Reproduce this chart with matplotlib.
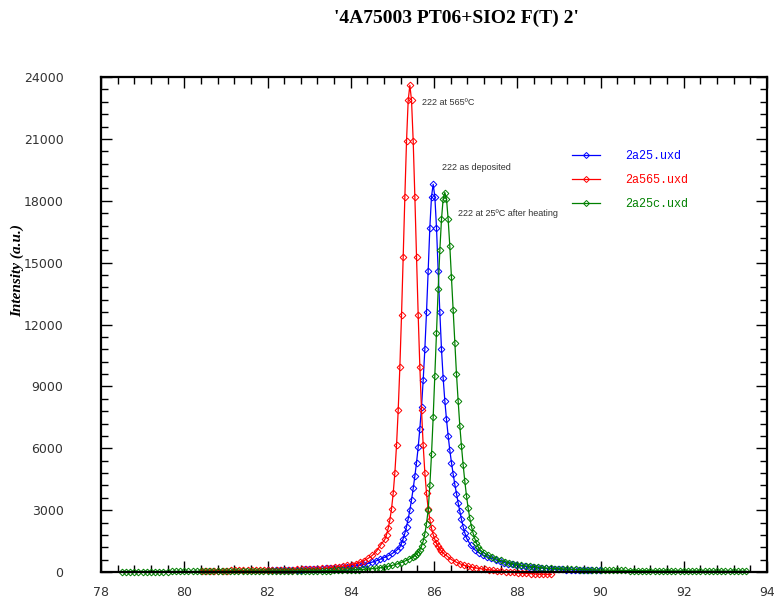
import numpy as np
import matplotlib.pyplot as plt
from matplotlib.ticker import MultipleLocator

# scan steps (deg 2theta): coarse in the tails, fine around the peaks
TAIL_STEP = 0.1
CORE_STEP = 0.04

# 2a25.uxd -- 222 as deposited
blue_left_start = 82.0
blue_left = [75, 79, 83, 87, 92, 97, 102, 108, 115, 122, 130, 138, 148, 158, 170,
             182, 196, 212, 230, 250, 272, 300, 330, 365, 405, 470, 535, 610, 700,
             790, 900, 1050]
blue_core_start = 85.18
blue_core = [1200, 1400, 1620, 1880, 2200, 2580, 3000, 3500, 4050, 4650, 5300, 6050,
             6950, 8000, 9300, 10800, 12600, 14600, 16700, 18200, 18800, 18200, 16700,
             14600, 12600, 10800, 9400, 8300, 7400, 6600, 5900, 5300, 4750, 4250, 3800,
             3350, 2950, 2550, 2200, 1900, 1650]
blue_right_start = 86.88
blue_right = [1300, 1080, 930, 820, 740, 660, 590, 520, 460, 410, 370, 330, 300, 270,
              245, 225, 205, 190, 175, 160, 150, 140, 130, 120, 112, 105, 98, 93, 88,
              84, 80, 76]

# 2a565.uxd -- 222 at 565C
red_left_start = 80.42
red_left = [65, 66, 67, 68, 69, 71, 72, 74, 75, 77, 79, 81, 83, 86, 88, 91, 94, 97,
            101, 105, 109, 114, 120, 126, 132, 140, 148, 158, 169, 181, 196, 213, 232,
            256, 283, 317, 358, 409, 473, 556, 664, 810, 1015, 1314]
red_core_start = 84.82
red_core = [1580, 1815, 2120, 2530, 3070, 3820, 4820, 6150, 7850, 9950, 12460, 15290,
            18200, 20900, 22870, 23600, 22870, 20900, 18200, 15290, 12460, 9950, 7850,
            6150, 4820, 3820, 3070, 2530, 2120, 1815, 1580, 1390, 1240, 1110, 1005, 915]
red_right_start = 86.32
red_right = [760, 600, 490, 400, 330, 275, 230, 190, 160, 130, 105, 85, 65, 40, 20, 0,
             -20, -40, -60, -70, -80, -90, -100, -100, -110, -110]

# 2a25c.uxd -- 222 at 25C after heating
green_left_start = 78.5
green_left = [22, 22, 22, 23, 23, 23, 23, 23, 24, 24, 24, 24, 25, 25, 25, 26, 26, 26,
              27, 27, 28, 28, 29, 29, 30, 30, 31, 31, 32, 33, 34, 34, 35, 36, 37, 38,
              39, 40, 42, 43, 45, 46, 48, 50, 52, 55, 57, 60, 63, 66, 70, 74, 79, 84,
              90, 97, 106, 116, 128, 143, 160, 180, 205, 235, 275, 320, 380, 450, 530,
              620]
green_core_start = 85.50
green_core = [730, 790, 860, 950, 1080, 1250, 1500, 1850, 2350, 3000, 4200, 5700, 7500,
              9500, 11600, 13700, 15600, 17100, 18100, 18400, 18100, 17100, 15800, 14300,
              12700, 11100, 9600, 8300, 7100, 6100, 5200, 4400, 3700, 3100, 2600, 2200,
              1880, 1620, 1400, 1220, 1080]
green_right_start = 87.20
green_right = [930, 810, 710, 630, 560, 500, 445, 400, 360, 325, 295, 270, 247, 227,
               209, 193, 179, 168, 158, 149, 140, 134, 127, 120, 114, 108, 103, 98, 94,
               90, 86, 82, 79, 76, 73, 71, 68, 66, 64, 62, 60, 58, 57, 55, 54, 52, 51,
               50, 48, 47, 46, 45, 44, 43, 42, 42, 41, 40, 39, 39, 38, 37, 37, 36]

x_ticks = [78, 80, 82, 84, 86, 88, 90, 92, 94]
y_ticks = [0, 3000, 6000, 9000, 12000, 15000, 18000, 21000, 24000]


def scan(parts):
    xs, ys = [], []
    for start, step, vals in parts:
        xs.append(start + step * np.arange(len(vals)))
        ys.append(np.asarray(vals, float))
    return np.concatenate(xs), np.concatenate(ys)


series = [
    ("2a25.uxd", "#0000ff", scan([(blue_left_start, TAIL_STEP, blue_left),
                                  (blue_core_start, CORE_STEP, blue_core),
                                  (blue_right_start, TAIL_STEP, blue_right)])),
    ("2a565.uxd", "#ff0000", scan([(red_left_start, TAIL_STEP, red_left),
                                   (red_core_start, CORE_STEP, red_core),
                                   (red_right_start, TAIL_STEP, red_right)])),
    ("2a25c.uxd", "#008000", scan([(green_left_start, TAIL_STEP, green_left),
                                   (green_core_start, CORE_STEP, green_core),
                                   (green_right_start, TAIL_STEP, green_right)])),
]

fig = plt.figure(figsize=(7.74, 6.07), dpi=100)
ax = fig.add_axes([101 / 774, 35 / 607, 666 / 774, 495 / 607])

for name, col, (x, y) in series:
    ax.plot(x, y, color=col, lw=0.9, marker="D", ms=3.4, mfc="none", mew=0.7,
            label=name, clip_on=False)

ax.set_xlim(78, 94)
ax.set_ylim(0, 24000)
ax.set_xticks(x_ticks)
ax.set_yticks(y_ticks)
ax.xaxis.set_minor_locator(MultipleLocator(0.4))
ax.yaxis.set_minor_locator(MultipleLocator(600))
ax.tick_params(which="both", direction="in", top=True, right=True, width=1,
               labelcolor="#333333", labelsize=9)
ax.tick_params(axis="x", which="major", length=8, pad=10)
ax.tick_params(axis="y", which="major", length=8, pad=27)
ax.tick_params(which="minor", length=5)
for s in ax.spines.values():
    s.set_linewidth(1.6)

ann = dict(fontsize=6.5, color="#333333", family="Liberation Sans",
           ha="left", va="center")
ax.text(85.71, 22740, "222 at 565ºC", **ann)
ax.text(86.19, 19590, "222 as deposited", **ann)
ax.text(86.58, 17360, "222 at 25ºC after heating", **ann)

leg = ax.legend(loc="upper left", bbox_to_anchor=(0.707, 0.852), frameon=False,
                prop={"family": "Liberation Mono", "size": 8.5},
                handlelength=2.4, handletextpad=2.1, labelspacing=1.0,
                borderpad=0, borderaxespad=0, markerscale=0.9)
for t, (_, col, _) in zip(leg.get_texts(), series):
    t.set_color(col)

fig.text(0.59, 0.970, "'4A75003 PT06+SIO2 F(T) 2'", ha="center", va="center",
         family="Liberation Serif", weight="bold", fontsize=14)
fig.text(17 / 774, 0.555, "Intensity (a.u.)", rotation=90, ha="center", va="center",
         family="Liberation Serif", weight="bold", style="italic", fontsize=11)

fig.savefig("out.png", dpi=100)
